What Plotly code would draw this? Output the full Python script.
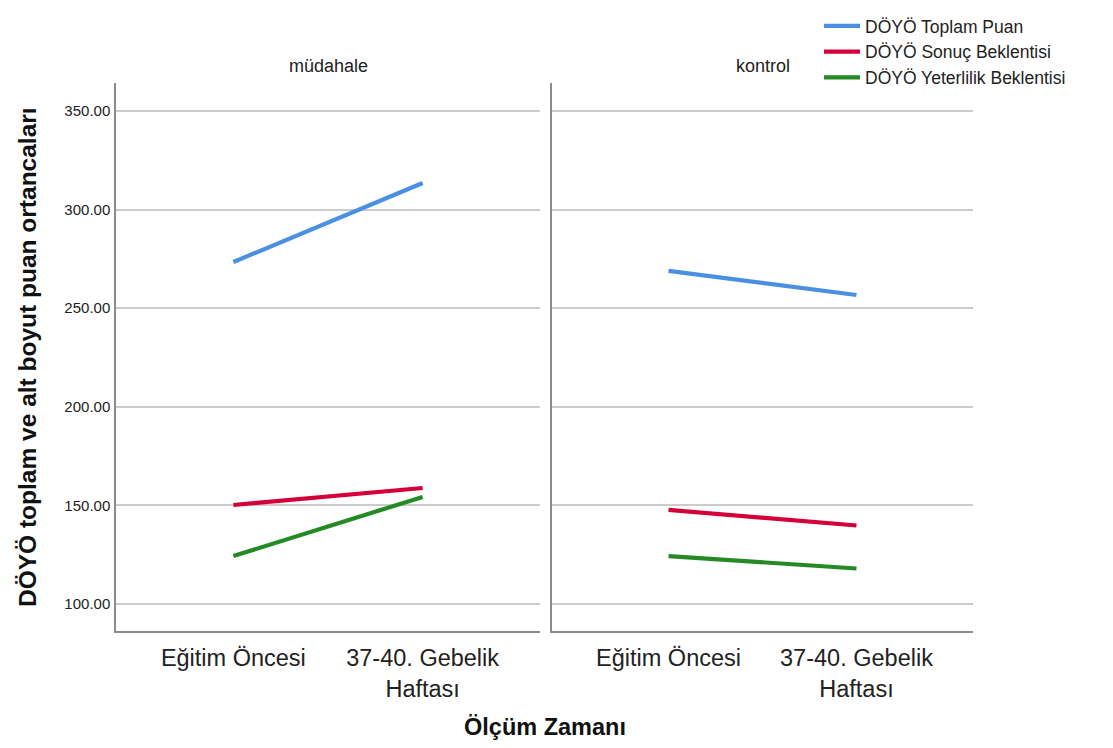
import plotly.graph_objects as go

groups = ["müdahale", "kontrol"]
times = ["Eğitim Öncesi", "37-40. Gebelik<br>Haftası"]
series_names = ["DÖYÖ Toplam Puan", "DÖYÖ Sonuç Beklentisi", "DÖYÖ Yeterlilik Beklentisi"]
colors = ["#4a90e2", "#d4003a", "#248a24"]

mudahale_toplam = [273.4, 313.5]
mudahale_sonuc = [150.2, 158.8]
mudahale_yeterlilik = [124.3, 154.3]
kontrol_toplam = [268.9, 256.7]
kontrol_sonuc = [147.7, 139.8]
kontrol_yeterlilik = [124.3, 118.0]

yticks = [100, 150, 200, 250, 300, 350]
ytick_text = ["100.00", "150.00", "200.00", "250.00", "300.00", "350.00"]

data = {
    "müdahale": [mudahale_toplam, mudahale_sonuc, mudahale_yeterlilik],
    "kontrol": [kontrol_toplam, kontrol_sonuc, kontrol_yeterlilik],
}

# page body has an 8px margin; figure occupies screen 8..1113 x 8..748
OFF = 8
W, H = 1113 - OFF, 748 - OFF


def px(s):
    return (s - OFF) / W


def py(s):
    return 1 - (s - OFF) / H


FONT = "Liberation Sans, Arial, sans-serif"

fig = go.Figure()
for gi, g in enumerate(groups):
    xa = "x" if gi == 0 else "x2"
    ya = "y" if gi == 0 else "y2"
    for si, name in enumerate(series_names):
        fig.add_trace(go.Scatter(
            x=times, y=data[g][si], mode="lines", name=name,
            line=dict(color=colors[si], width=4.2),
            xaxis=xa, yaxis=ya, showlegend=(gi == 0),
        ))

axis_common = dict(
    type="category", range=[-0.62, 1.62], showgrid=False, zeroline=False,
    showline=True, linecolor="#8c8c8c", linewidth=1.5, ticks="",
    ticklabelstandoff=5, automargin=False,
    tickfont=dict(family=FONT, size=23.5, color="#222222"),
    fixedrange=True,
)
yaxis_common = dict(
    range=[86.3, 364.2], tickvals=yticks, ticktext=ytick_text,
    showgrid=True, gridcolor="#cccccc", gridwidth=1.5, zeroline=False,
    showline=True, linecolor="#8c8c8c", linewidth=1.5, ticks="",
    automargin=False,
)

fig.update_layout(
    width=W, height=H,
    margin=dict(l=0, r=0, t=0, b=0),
    paper_bgcolor="white", plot_bgcolor="white",
    xaxis=dict(domain=[px(116), px(540)], anchor="y", **axis_common),
    xaxis2=dict(domain=[px(552), px(973)], anchor="y2", **axis_common),
    yaxis=dict(domain=[py(631), py(83)], anchor="x", ticklabelstandoff=1,
               tickfont=dict(family=FONT, size=15, color="#222222"), **yaxis_common),
    yaxis2=dict(domain=[py(631), py(83)], anchor="x2", showticklabels=False, **yaxis_common),
    legend=dict(x=px(819), y=1, xanchor="left", yanchor="top",
                font=dict(family=FONT, size=17.5, color="#222222"),
                tracegroupgap=0, itemwidth=36, bgcolor="rgba(0,0,0,0)",
                borderwidth=0),
    showlegend=True,
    annotations=[
        dict(text="müdahale", x=px(328), y=py(66), xref="paper", yref="paper",
             xanchor="center", yanchor="middle", showarrow=False,
             font=dict(family=FONT, size=18, color="#222222")),
        dict(text="kontrol", x=px(763), y=py(66), xref="paper", yref="paper",
             xanchor="center", yanchor="middle", showarrow=False,
             font=dict(family=FONT, size=18, color="#222222")),
        dict(text="<b>DÖYÖ toplam ve alt boyut puan ortancaları</b>", x=px(28), y=py(357),
             xref="paper", yref="paper", xanchor="center", yanchor="middle",
             showarrow=False, textangle=-90,
             font=dict(family=FONT, size=24.5, color="#111111")),
        dict(text="<b>Ölçüm Zamanı</b>", x=px(545), y=py(727), xref="paper", yref="paper",
             xanchor="center", yanchor="middle", showarrow=False,
             font=dict(family=FONT, size=23.5, color="#111111")),
    ],
)

fig.write_html("out.html")
